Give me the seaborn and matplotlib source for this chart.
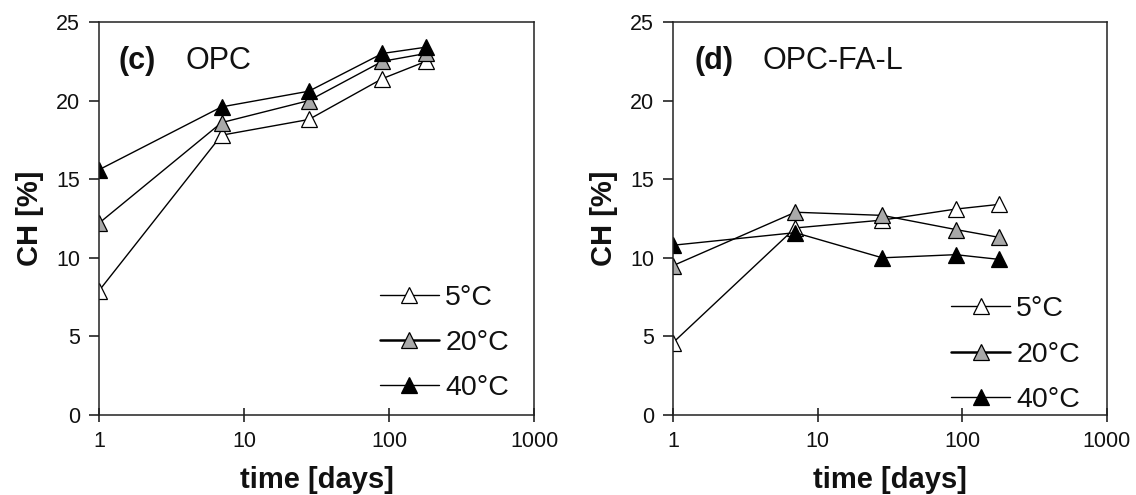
import matplotlib
matplotlib.use("Agg")
import matplotlib.pyplot as plt
from matplotlib.lines import Line2D
import seaborn as sns

# Curing ages (days)
days = [1, 7, 28, 90, 180]

# Portlandite (CH) content, OPC paste
opc_5c = [7.9, 17.8, 18.8, 21.4, 22.5]
opc_20c = [12.2, 18.6, 20.0, 22.5, 23.0]
opc_40c = [15.6, 19.6, 20.6, 23.0, 23.4]

# Portlandite (CH) content, OPC-FA-L paste
fal_5c = [4.6, 11.9, 12.4, 13.1, 13.4]
fal_20c = [9.5, 12.9, 12.7, 11.8, 11.3]
fal_40c = [10.8, 11.6, 10.0, 10.2, 9.9]

temp_labels = ["5°C", "20°C", "40°C"]
panel_tags = ["(c)", "(d)"]
panel_names = ["OPC", "OPC-FA-L"]
x_ticks = [1, 10, 100, 1000]
y_ticks = [0, 5, 10, 15, 20, 25]

sns.set_theme(style="ticks")
plt.rcParams["font.family"] = ["Liberation Sans", "DejaVu Sans"]
plt.rcParams["axes.linewidth"] = 1.1
for key in ["text.color", "axes.labelcolor", "xtick.color", "ytick.color",
            "xtick.labelcolor", "ytick.labelcolor"]:
    plt.rcParams[key] = "#111111"

fill_colors = ["white", "#a9a9a9", "black"]
legend_lw = [1.0, 1.8, 1.0]

fig = plt.figure(figsize=(11.36, 4.95), dpi=100)
ax_left = fig.add_axes([0.0871, 0.1616, 0.3830, 0.7939])
ax_right = fig.add_axes([0.5924, 0.1616, 0.3820, 0.7939])

panels = [
    (ax_left, [opc_5c, opc_20c, opc_40c], (0.646, 0.035), (0.044, 0.198)),
    (ax_right, [fal_5c, fal_20c, fal_40c], (0.641, 0.005), (0.050, 0.207)),
]

for i, (ax, series, leg_anchor, text_x) in enumerate(panels):
    for vals, fc, lab in zip(series, fill_colors, temp_labels):
        sns.lineplot(x=days, y=vals, ax=ax, color="black", lw=1.0,
                     marker="^", markersize=11, markerfacecolor=fc,
                     markeredgecolor="black", markeredgewidth=0.9,
                     label=lab, legend=False)
    ax.set_xscale("log")
    ax.set_xlim(1, 1000)
    ax.set_ylim(0, 25)
    ax.set_xticks(x_ticks)
    ax.set_xticklabels([str(t) for t in x_ticks])
    ax.set_yticks(y_ticks)
    ax.minorticks_off()
    ax.tick_params(axis="x", direction="inout", length=10, width=1.1,
                   labelsize=15.5, pad=6.5)
    ax.tick_params(axis="y", direction="out", length=7, width=1.1,
                   labelsize=15.5, pad=6.5)
    for sp in ax.spines.values():
        sp.set_visible(True)
        sp.set_color("#222222")
    ax.set_xlabel("time [days]", fontsize=21, fontweight="bold", labelpad=10)
    ax.set_ylabel("CH [%]", fontsize=21, fontweight="bold", labelpad=8.5)

    ax.text(text_x[0], 0.902, panel_tags[i], transform=ax.transAxes,
            fontsize=22, fontweight="bold", va="center", ha="left")
    ax.text(text_x[1], 0.902, panel_names[i], transform=ax.transAxes,
            fontsize=22, va="center", ha="left")

    handles = [Line2D([], [], color="black", lw=lw, marker="^", markersize=12,
                      markerfacecolor=fc, markeredgecolor="black",
                      markeredgewidth=0.9)
               for fc, lw in zip(fill_colors, legend_lw)]
    ax.legend(handles, temp_labels, loc="lower left", bbox_to_anchor=leg_anchor,
              frameon=False, fontsize=20.5, handlelength=2.07, handletextpad=0.22,
              labelspacing=0.68, borderpad=0.0, borderaxespad=0.0)

fig.savefig("out.png", dpi=100)
